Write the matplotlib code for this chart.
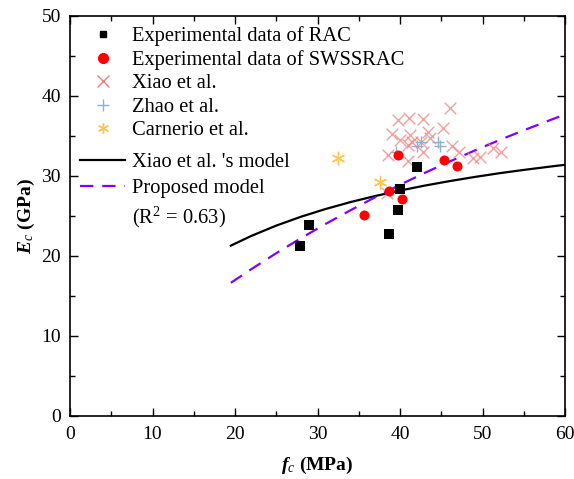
import matplotlib
matplotlib.use("Agg")
import matplotlib.pyplot as plt
from matplotlib.lines import Line2D
from matplotlib.ticker import MultipleLocator

plt.rcParams['font.family'] = ['Liberation Serif', 'DejaVu Serif']
plt.rcParams['mathtext.fontset'] = 'custom'
plt.rcParams['mathtext.rm'] = 'Liberation Serif'
plt.rcParams['mathtext.it'] = 'Liberation Serif:italic'
plt.rcParams['mathtext.bf'] = 'Liberation Serif:bold'
plt.rcParams['mathtext.bfit'] = 'Liberation Serif:italic:bold'

# --- data ---
rac_fc = [27.9, 29.0, 38.7, 39.7, 40.0, 42.1]
rac_ec = [21.2, 23.9, 22.7, 25.8, 28.4, 31.1]

sws_fc = [35.6, 38.7, 40.2, 39.7, 45.3, 46.9]
sws_ec = [25.1, 28.1, 27.1, 32.6, 32.0, 31.3]

xiao_fc = [46.1, 39.8, 41.1, 42.8, 45.2, 39.0, 41.2, 43.4, 40.0, 41.4, 42.6, 43.6,
           41.0, 46.3, 47.1, 42.8, 38.6, 41.0, 48.9, 49.7, 51.3, 52.3, 38.4]
xiao_ec = [38.5, 37.0, 37.3, 37.1, 36.0, 35.2, 35.1, 35.5, 34.5, 34.2, 34.3, 34.8,
           33.9, 33.7, 33.0, 33.0, 32.6, 31.9, 32.2, 32.4, 33.5, 33.0, 27.9]

zhao_fc = [39.5, 42.1, 42.6, 44.6, 44.9]
zhao_ec = [33.0, 33.8, 34.2, 34.3, 33.8]

carn_fc = [32.5, 37.6]
carn_ec = [32.2, 29.3]

model_fc = [19.5, 22, 25, 28, 31, 34, 37, 40, 43, 46, 49, 52, 55, 58, 60]
xiao_model_ec = [21.30, 22.52, 23.80, 24.91, 25.88, 26.74, 27.50, 28.18, 28.80,
                 29.36, 29.87, 30.34, 30.76, 31.15, 31.40]
proposed_ec = [16.65, 18.37, 20.35, 22.23, 24.02, 25.72, 27.35, 28.90, 30.39,
               31.80, 33.16, 34.47, 35.71, 36.91, 37.69]

W, H = 574, 479
fig = plt.figure(figsize=(W / 100, H / 100), dpi=100)
ax = fig.add_axes([70 / W, 1 - 416 / H, 495 / W, 400 / H])

PURPLE = '#8000FF'
XCOL = '#F08080'
ZCOL = '#8FAFD3'
CCOL = '#FFC84D'
dash = (0, (6, 4))

ax.plot(model_fc, xiao_model_ec, color='black', lw=1.6, zorder=2)
ax.plot(model_fc, proposed_ec, color=PURPLE, lw=1.6, ls=dash, zorder=2)

ax.scatter(xiao_fc, xiao_ec, marker='x', s=70, color=XCOL, alpha=0.75, lw=1.0, zorder=3)
ax.scatter(zhao_fc, zhao_ec, marker='+', s=70, color=ZCOL, lw=1.0, zorder=3)
ax.scatter(carn_fc, carn_ec, marker=(6, 2, 0), s=80, color=CCOL, lw=1.0, zorder=3)
ax.scatter(rac_fc, rac_ec, marker='s', s=42, color='black', lw=0, zorder=4)
ax.scatter(sws_fc, sws_ec, marker='o', s=52, color='red', lw=0, zorder=4)

ax.set_xlim(0, 60)
ax.set_ylim(0, 50)
ax.xaxis.set_major_locator(MultipleLocator(10))
ax.xaxis.set_minor_locator(MultipleLocator(5))
ax.yaxis.set_major_locator(MultipleLocator(10))
ax.yaxis.set_minor_locator(MultipleLocator(5))
ax.tick_params(which='both', direction='in', top=True, right=True, labelsize=14)
ax.tick_params(which='major', length=6, width=1)
ax.tick_params(which='minor', length=3.5, width=1)
ax.tick_params(axis='x', which='major', pad=7)
ax.tick_params(axis='y', which='major', pad=6.5)
for s in ax.spines.values():
    s.set_linewidth(1.2)

ax.set_xlabel(r'$\mathbfit{f}_{\mathit{c}}$ (MPa)', fontsize=14, fontweight='bold', labelpad=9)
ax.set_ylabel(r'$\mathbfit{E}_{\mathit{c}}$ (GPa)', fontsize=14, fontweight='bold', labelpad=3)

FS = 14.8
h1 = [
    Line2D([], [], marker='s', ls='none', color='black', markersize=5),
    Line2D([], [], marker='o', ls='none', color='red', markersize=7),
    Line2D([], [], marker='x', ls='none', color=XCOL, markersize=8),
    Line2D([], [], marker='+', ls='none', color=ZCOL, markersize=8),
    Line2D([], [], marker=(6, 2, 0), ls='none', color=CCOL, markersize=8),
]
l1 = ['Experimental data of RAC', 'Experimental data of SWSSRAC', 'Xiao et al.',
      'Zhao et al.', 'Carnerio et al.']
h2 = [
    Line2D([], [], color='black', lw=1.6),
    Line2D([], [], color=PURPLE, lw=1.6, ls=dash),
    Line2D([], [], ls='none'),
]
l2 = ["Xiao et al. 's model", 'Proposed model', r'(R$^2$ = 0.63)']

leg1 = fig.legend(h1, l1, loc='upper left', frameon=False, fontsize=FS,
                  handlelength=2.2, handletextpad=0.34, labelspacing=0.2,
                  borderpad=0, borderaxespad=0,
                  bbox_to_anchor=(80 / W, 1 - 26 / H))
leg2 = fig.legend(h2, l2, loc='upper left', frameon=False, fontsize=FS,
                  handlelength=2.2, handletextpad=0.34, labelspacing=0.33,
                  borderpad=0, borderaxespad=0,
                  bbox_to_anchor=(80 / W, 1 - 152.5 / H))

fig.savefig('out.png', dpi=100)
